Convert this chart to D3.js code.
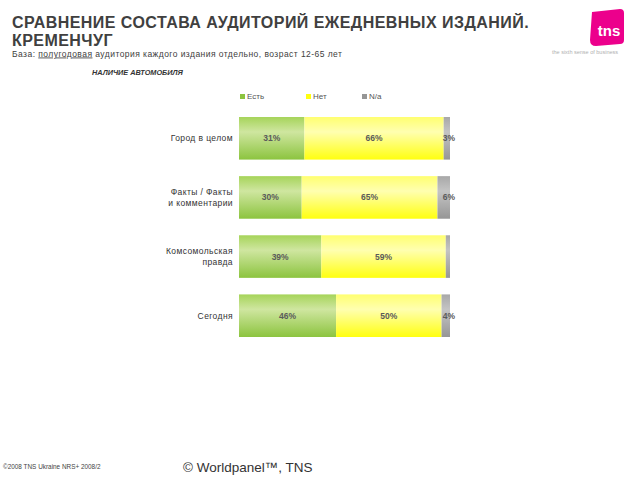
<!DOCTYPE html>
<html>
<head>
<meta charset="utf-8">
<script src="https://cdnjs.cloudflare.com/ajax/libs/d3/7.8.5/d3.min.js"></script>
<style>
  body { margin: 0; background: #fff; }
  svg { font-family: "Liberation Sans", Arial, sans-serif; }
</style>
</head>
<body>
<svg id="chart" width="640" height="480"></svg>
<script>
// data
const categories = ["Город в целом", "Факты / Факты\nи комментарии", "Комсомольская\nправда", "Сегодня"];
const seriesNames = ["Есть", "Нет", "N/a"];
const est = [31, 30, 39, 46];
const net = [66, 65, 59, 50];
const na = [3, 6, 2, 4];

const colors = {
  "Есть": ["#a6d45a", "#cfe6a0", "#8cc43f"],
  "Нет": ["#ffff70", "#ffffb0", "#ffff10"],
  "N/a": ["#a8a8a8", "#c4c4c4", "#969696"]
};

const svg = d3.select("#chart");
const defs = svg.append("defs");
seriesNames.forEach((s, i) => {
  const g = defs.append("linearGradient").attr("id", "grad" + i)
    .attr("x1", 0).attr("y1", 0).attr("x2", 0).attr("y2", 1);
  g.append("stop").attr("offset", "0%").attr("stop-color", colors[s][0]);
  g.append("stop").attr("offset", "35%").attr("stop-color", colors[s][1]);
  g.append("stop").attr("offset", "100%").attr("stop-color", colors[s][2]);
});

// header
svg.append("text").attr("x", 12).attr("y", 28)
  .attr("font-size", 16).attr("fill", "#404040").style("font-weight", 600)
  .attr("letter-spacing", 0.45)
  .text("СРАВНЕНИЕ СОСТАВА АУДИТОРИЙ ЕЖЕДНЕВНЫХ ИЗДАНИЙ.");
svg.append("text").attr("x", 12).attr("y", 46)
  .attr("font-size", 16).attr("fill", "#404040").style("font-weight", 600)
  .attr("letter-spacing", 0.45)
  .text("КРЕМЕНЧУГ");

const sub = svg.append("text").attr("x", 12).attr("y", 56.5)
  .attr("font-size", 8.5).attr("fill", "#404040").attr("letter-spacing", 0.45);
sub.append("tspan").text("База: ");
sub.append("tspan").attr("text-decoration", "underline").text("полугодовая");
sub.append("tspan").text(" аудитория каждого издания отдельно, возраст 12-65 лет");

svg.append("text").attr("x", 92).attr("y", 75)
  .attr("font-size", 7.3).attr("font-weight", "bold").attr("font-style", "italic")
  .attr("fill", "#333").text("НАЛИЧИЕ АВТОМОБИЛЯ");

// logo
const logo = svg.append("g");
logo.append("path")
  .attr("d", "M592,12 L620,9 Q624,9 624,13 L624,40 Q624,44 620,44 L596,46 Q590,46 590,40 Z")
  .attr("fill", "#ec008c");
logo.append("text").attr("x", 609).attr("y", 36).attr("text-anchor", "middle")
  .attr("font-size", 15).attr("font-weight", "bold").attr("fill", "#fff").text("tns");
logo.append("text").attr("x", 585).attr("y", 54).attr("text-anchor", "middle")
  .attr("font-size", 5.5).attr("fill", "#b0b0b0").text("the sixth sense of business");

// chart
const x = d3.scaleLinear().domain([0, 1]).range([239, 450]);
const y = d3.scaleBand().domain(categories).range([104, 350]).paddingInner(0.28).paddingOuter(0.22);

const rows = categories.map((c, i) => {
  const vals = [est[i], net[i], na[i]];
  const total = d3.sum(vals);
  let acc = 0;
  return vals.map((v, j) => {
    const seg = { cat: c, s: j, v, x0: acc / total, x1: (acc + v) / total };
    acc += v;
    return seg;
  });
});

const bars = svg.append("g");
rows.forEach(row => {
  bars.selectAll(null).data(row).enter().append("rect")
    .attr("x", d => x(d.x0))
    .attr("y", d => y(d.cat))
    .attr("width", d => x(d.x1) - x(d.x0))
    .attr("height", y.bandwidth())
    .attr("fill", d => "url(#grad" + d.s + ")");
  bars.selectAll(null).data(row.filter(d => d.v >= 3)).enter().append("text")
    .attr("x", d => d.s === 2 ? x(d.x1) - 1 : (x(d.x0) + x(d.x1)) / 2)
    .attr("y", d => y(d.cat) + y.bandwidth() / 2 + 3)
    .attr("text-anchor", "middle")
    .attr("font-size", 8.5).attr("font-weight", "bold").attr("fill", "#5a5a5a")
    .text(d => d.v + "%");
});

// category labels
categories.forEach(c => {
  const lines = c.split("\n");
  const cy = y(c) + y.bandwidth() / 2;
  const t = svg.append("text").attr("text-anchor", "end")
    .attr("font-size", 8.5).attr("fill", "#333").attr("letter-spacing", 0.4);
  lines.forEach((l, k) => {
    t.append("tspan").attr("x", 233)
      .attr("y", cy + 3 + (k - (lines.length - 1) / 2) * 11).text(l);
  });
});

// legend
const legX = [240, 306, 362];
seriesNames.forEach((s, i) => {
  svg.append("rect").attr("x", legX[i]).attr("y", 94).attr("width", 5).attr("height", 5)
    .attr("fill", colors[s][2]);
  svg.append("text").attr("x", legX[i] + 7).attr("y", 99)
    .attr("font-size", 8).attr("fill", "#555").text(s);
});

// footer
svg.append("text").attr("x", 3).attr("y", 469).attr("font-size", 6.4).attr("fill", "#444")
  .text("©2008 TNS Ukraine  NRS+ 2008/2");
svg.append("text").attr("x", 183).attr("y", 472).attr("font-size", 13.5).attr("fill", "#333")
  .text("© Worldpanel™, TNS");
</script>
</body>
</html>
